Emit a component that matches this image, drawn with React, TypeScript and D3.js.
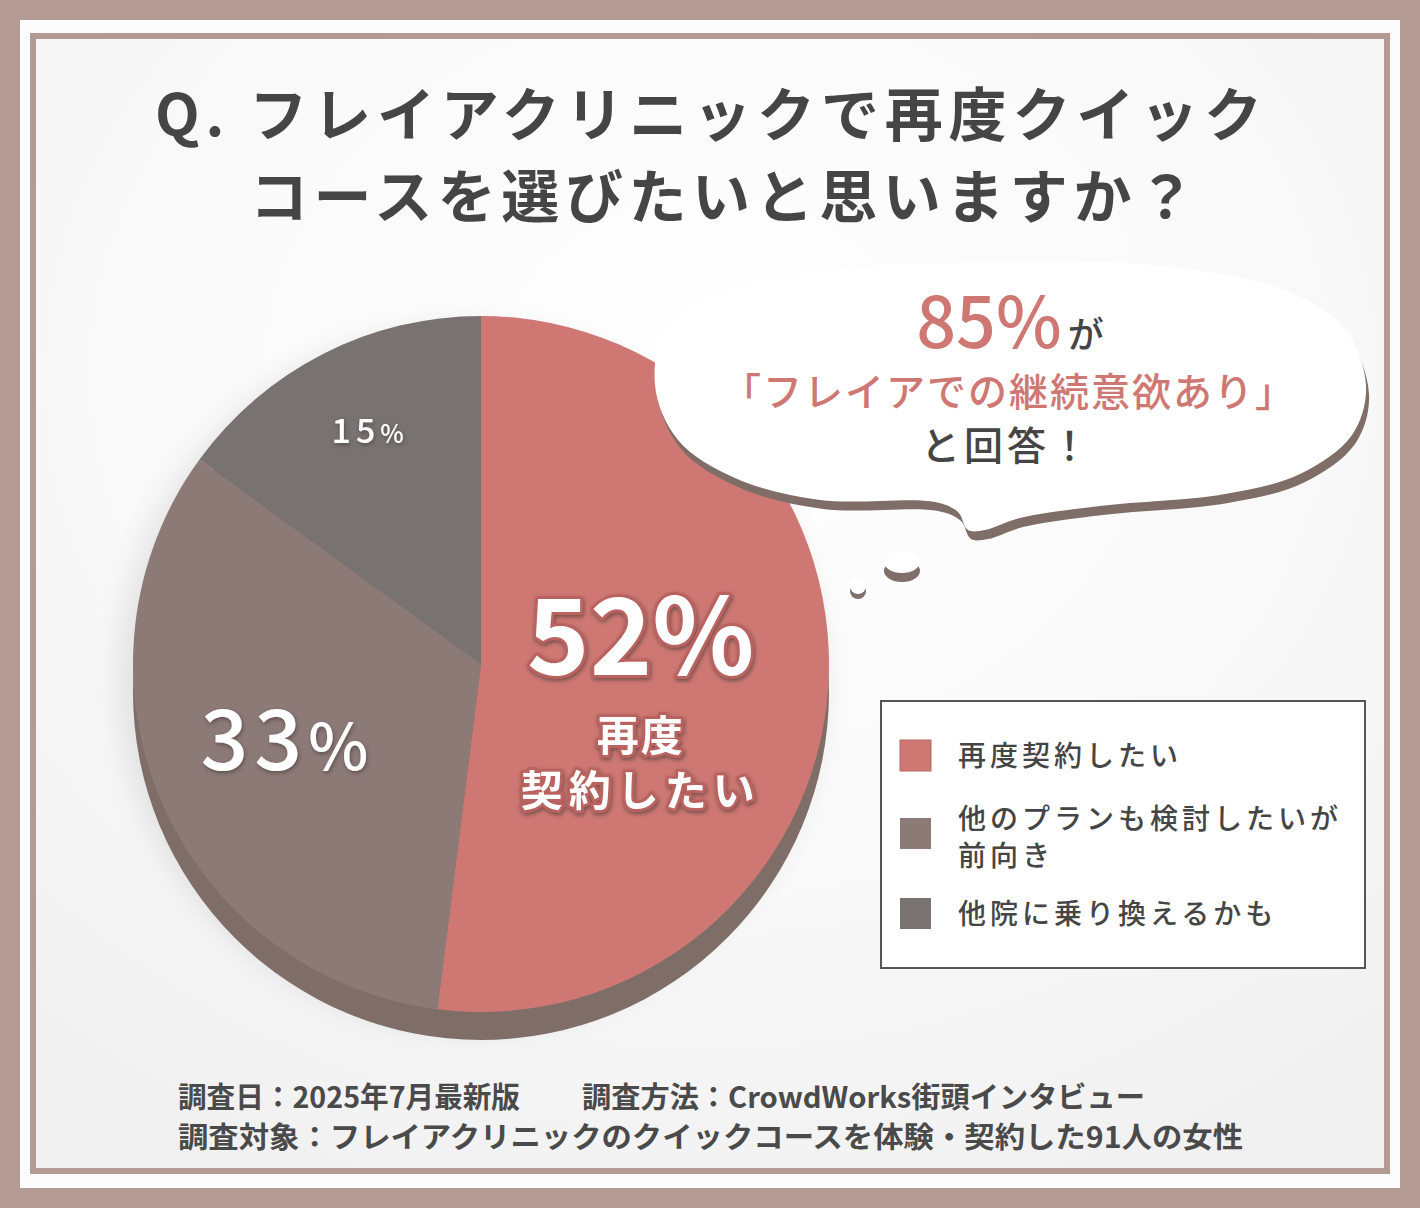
import React, { useEffect } from 'react';
import * as d3 from 'd3';

// 回答の内訳
const categories = ['再度契約したい', '他のプランも検討したいが前向き', '他院に乗り換えるかも'];
const values = [52, 33, 15];
const legendLines = [['再度契約したい'], ['他のプランも検討したいが', '前向き'], ['他院に乗り換えるかも']];
const sliceColors = ['#cf7873', '#8c7a77', '#787271'];

const titleLines = ['Q. フレイアクリニックで再度クイック', 'コースを選びたいと思いますか？'];
const footerLines = [
  ['調査日：2025年7月最新版', '調査方法：CrowdWorks街頭インタビュー'],
  ['調査対象：フレイアクリニックのクイックコースを体験・契約した91人の女性'],
];

const W = 1420;
const H = 1208;
const FONT = "'Noto Sans CJK JP', 'Noto Sans', sans-serif";
const FRAME = '#b39a92';
const SHADOW = '#7f6d67';
const TEXT = '#454545';

const cx = 481;
const cy = 664;
const radius = 348;
const depth = 28;
// ラベルの中心までの距離
const labelRadius = [160, 211, 244];

// 吹き出しの輪郭
const bubblePts: [number, number][] = [
  [655, 385], [668, 325], [735, 288], [850, 268], [1000, 262], [1150, 265],
  [1275, 287], [1342, 325], [1366, 385], [1352, 435], [1300, 474], [1225, 494],
  [1100, 506], [1020, 518], [985, 530], [968, 530], [958, 512], [935, 502],
  [820, 500], [735, 478], [678, 440],
];

const App: React.FC = () => {
  useEffect(() => {
    document.body.style.margin = '0';
  }, []);

  const pie = d3.pie<number>().sort(null).value((d) => d);
  const arcs = pie(values);
  const arc = d3.arc<d3.PieArcDatum<number>>().innerRadius(0).outerRadius(radius);

  const labelPos = arcs.map((a, i) =>
    d3.arc<d3.PieArcDatum<number>>().innerRadius(labelRadius[i]).outerRadius(labelRadius[i]).centroid(a)
  );

  const bubble = d3.line().curve(d3.curveCatmullRomClosed.alpha(0.5))(bubblePts) || '';

  return (
    <svg width={W} height={H} viewBox={`0 0 ${W} ${H}`} style={{ display: 'block' }} fontFamily={FONT}>
      <defs>
        <filter id="soft" x="-20%" y="-20%" width="140%" height="140%">
          <feGaussianBlur stdDeviation="14" />
        </filter>
        <filter id="txtShadow" x="-20%" y="-20%" width="140%" height="140%">
          <feDropShadow dx="1" dy="2" stdDeviation="2" floodColor="#4a3a37" floodOpacity="0.7" />
        </filter>
        <radialGradient id="bg" cx="0.5" cy="0.3" r="0.8">
          <stop offset="0" stopColor="#ffffff" />
          <stop offset="0.6" stopColor="#f8f8f8" />
          <stop offset="1" stopColor="#f0f0f0" />
        </radialGradient>
      </defs>

      {/* 枠 */}
      <rect x={0} y={0} width={W} height={H} fill={FRAME} />
      <rect x={20} y={20} width={W - 40} height={H - 40} fill="#fbfbfb" />
      <rect x={33} y={36} width={W - 66} height={H - 73} fill="url(#bg)" stroke={FRAME} strokeWidth={6} />

      {/* タイトル */}
      <text x={155} y={136} fontSize={58} fontWeight={700} fill={TEXT} textLength={1107} lengthAdjust="spacing">
        {titleLines[0]}
      </text>
      <text x={250} y={218} fontSize={58} fontWeight={700} fill={TEXT} textLength={945} lengthAdjust="spacing">
        {titleLines[1]}
      </text>

      {/* 円グラフ */}
      <g transform={`translate(${cx},${cy})`}>
        <circle cx={-10} cy={depth / 2} r={radius + 6} fill="#000" opacity={0.08} filter="url(#soft)" />
        <circle cx={0} cy={depth} r={radius} fill={SHADOW} />
        {arcs.map((a, i) => (
          <path key={categories[i]} d={arc(a) || ''} fill={sliceColors[i]} />
        ))}

        {/* 52% */}
        <g transform={`translate(${labelPos[0][0]},${labelPos[0][1]})`} textAnchor="middle" fill="#fff"
          stroke="#b9625e" strokeWidth={6} strokeLinejoin="round" style={{ paintOrder: 'stroke' }} filter="url(#txtShadow)">
          <text y={1} fontSize={106} fontWeight={700}>{values[0]}%</text>
          <text y={77} fontSize={42} fontWeight={700} letterSpacing={2}>再度</text>
          <text y={132} fontSize={42} fontWeight={700} letterSpacing={6}>契約したい</text>
        </g>

        {/* 33% */}
        <g transform={`translate(${labelPos[1][0]},${labelPos[1][1]})`} textAnchor="middle" fill="#fff" filter="url(#txtShadow)">
          <text y={22} fontSize={84} fontWeight={500} letterSpacing={6}>
            {values[1]}<tspan fontSize={64}>%</tspan>
          </text>
        </g>

        {/* 15% */}
        <g transform={`translate(${labelPos[2][0]},${labelPos[2][1]})`} textAnchor="middle" fill="#fff" filter="url(#txtShadow)">
          <text y={-4} fontSize={34} fontWeight={500} letterSpacing={5}>
            {values[2]}<tspan fontSize={25}>%</tspan>
          </text>
        </g>
      </g>

      {/* 吹き出し */}
      <g>
        <path d={bubble} transform="translate(3,9)" fill={SHADOW} />
        <path d={bubble} fill="#fff" />
        <ellipse cx={902} cy={571} rx={18} ry={11} fill={SHADOW} />
        <ellipse cx={902} cy={562} rx={18} ry={11} fill="#fff" />
        <circle cx={858} cy={591} r={8} fill={SHADOW} />
        <circle cx={858} cy={586} r={8} fill="#fff" />

        <text x={1010} y={348} textAnchor="middle">
          <tspan fontSize={70} fontWeight={500} fill="#cf7873">85%</tspan>
          <tspan fontSize={36} fontWeight={500} fill={TEXT} dx={6}>が</tspan>
        </text>
        <text x={1009} y={406} textAnchor="middle" fontSize={39} fontWeight={500} fill="#cf7873" letterSpacing={2}>
          「フレイアでの継続意欲あり」
        </text>
        <text x={1007} y={460} textAnchor="middle" fontSize={39} fontWeight={500} fill={TEXT} letterSpacing={4}>
          と回答！
        </text>
      </g>

      {/* 凡例 */}
      <g>
        <rect x={881} y={701} width={484} height={267} fill="#fff" stroke="#555" strokeWidth={2} />
        {categories.map((c, i) => {
          const top = [740, 818, 898][i];
          return (
            <g key={c}>
              <rect x={900} y={top} width={31} height={31} fill={sliceColors[i]} stroke="#b06a66" strokeWidth={i === 0 ? 1 : 0} />
              {legendLines[i].map((line, j) => (
                <text key={line} x={958} y={top + 26 + (i === 1 ? -15 : 0) + j * 37} fontSize={28} fontWeight={500}
                  fill={TEXT} letterSpacing={4}>
                  {line}
                </text>
              ))}
            </g>
          );
        })}
      </g>

      {/* 調査概要 */}
      <g fontSize={29} fontWeight={700} fill="#4a4a4a">
        <text x={178} y={1108} textLength={342} lengthAdjust="spacingAndGlyphs">{footerLines[0][0]}</text>
        <text x={582} y={1108} textLength={563} lengthAdjust="spacingAndGlyphs">{footerLines[0][1]}</text>
        <text x={178} y={1148} textLength={1065} lengthAdjust="spacingAndGlyphs">{footerLines[1][0]}</text>
      </g>
    </svg>
  );
};

export default App;
